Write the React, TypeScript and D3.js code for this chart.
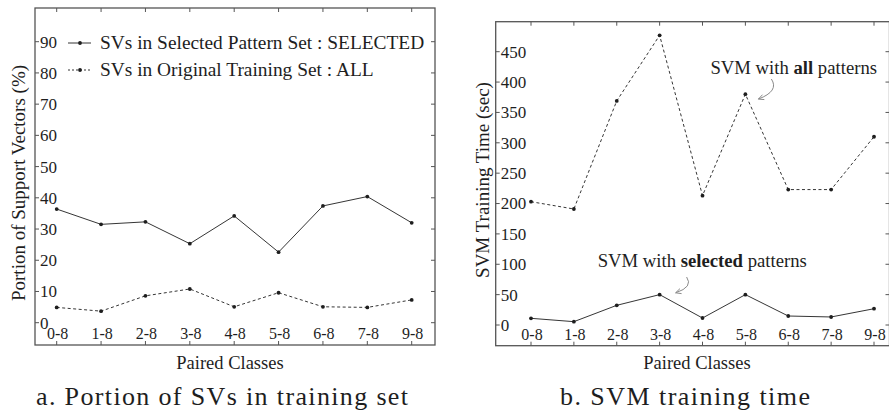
import React from "react";
import * as d3 from "d3";

// Paired digit classes on the x axis
const classes = ["0-8", "1-8", "2-8", "3-8", "4-8", "5-8", "6-8", "7-8", "9-8"];

// Panel a: portion of support vectors (%)
const svSelected = [36.4, 31.5, 32.3, 25.3, 34.2, 22.6, 37.4, 40.4, 32.0];
const svAll = [4.9, 3.7, 8.6, 10.8, 5.1, 9.6, 5.1, 4.9, 7.3];
const svTicks = [0, 10, 20, 30, 40, 50, 60, 70, 80, 90];

// Panel b: SVM training time (sec)
const timeAll = [203, 191, 369, 477, 213, 380, 223, 223, 310];
const timeSelected = [11, 5.5, 32.4, 50, 11.5, 50, 14.8, 13.2, 26.8];
const timeTicks = [0, 50, 100, 150, 200, 250, 300, 350, 400, 450];

const SERIF = "Liberation Serif";
const INK = "#1e1e1e";
const FRAME = "#555";

type Series = { values: number[]; dashed: boolean };

type PanelProps = {
  left: number;
  right: number;
  top: number;
  bottom: number;
  xRange: [number, number];
  yDomain: [number, number];
  yRange: [number, number];
  ticks: number[];
  series: Series[];
  yLabel: string;
  yLabelX: number;
  yLabelY: number;
  xLabelX: number;
  caption: string;
  captionX: number;
  captionWidth: number;
  children?: (x: d3.ScalePoint<string>, y: d3.ScaleLinear<number, number>) => React.ReactNode;
};

function Panel(p: PanelProps) {
  const x = d3.scalePoint<string>().domain(classes).range(p.xRange);
  const y = d3.scaleLinear().domain(p.yDomain).range(p.yRange);
  const line = d3
    .line<number>()
    .x((_, i) => x(classes[i]) as number)
    .y((v) => y(v));
  const tickLen = 4;
  return (
    <g>
      <rect
        x={p.left}
        y={p.top}
        width={p.right - p.left}
        height={p.bottom - p.top}
        fill="none"
        stroke={FRAME}
        strokeWidth={1.3}
      />
      {/* x ticks on top and bottom edges */}
      {classes.map((c) => (
        <g key={c}>
          <line x1={x(c)} x2={x(c)} y1={p.top} y2={p.top + tickLen} stroke={FRAME} />
          <line x1={x(c)} x2={x(c)} y1={p.bottom} y2={p.bottom - tickLen} stroke={FRAME} />
          <text
            x={(x(c) as number) + 1}
            y={p.bottom - 6}
            textAnchor="middle"
            fontFamily={SERIF}
            fontSize={16}
            fill={INK}
          >
            {c}
          </text>
        </g>
      ))}
      {/* y ticks on left and right edges, labels inside the frame */}
      {p.ticks.map((t) => (
        <g key={t}>
          <line x1={p.left} x2={p.left + tickLen} y1={y(t)} y2={y(t)} stroke={FRAME} />
          <line x1={p.right} x2={p.right - tickLen} y1={y(t)} y2={y(t)} stroke={FRAME} />
          <text x={p.left + 5} y={y(t)} dy="0.35em" fontFamily={SERIF} fontSize={17} fill={INK}>
            {t}
          </text>
        </g>
      ))}
      {p.series.map((s, si) => (
        <g key={si}>
          <path
            d={line(s.values) as string}
            fill="none"
            stroke={INK}
            strokeWidth={0.9}
            strokeDasharray={s.dashed ? "3 2.5" : undefined}
          />
          {s.values.map((v, i) => (
            <circle key={i} cx={x(classes[i])} cy={y(v)} r={1.9} fill={INK} />
          ))}
        </g>
      ))}
      {p.children && p.children(x, y)}
      <text
        transform={`translate(${p.yLabelX},${p.yLabelY}) rotate(-90)`}
        textAnchor="middle"
        fontFamily={SERIF}
        fontSize={19}
        fill={INK}
      >
        {p.yLabel}
      </text>
      <text x={p.xLabelX} y={369} textAnchor="middle" fontFamily={SERIF} fontSize={18.5} fill={INK}>
        Paired Classes
      </text>
      <text
        x={p.captionX}
        y={405}
        textAnchor="middle"
        textLength={p.captionWidth}
        lengthAdjust="spacing"
        fontFamily={SERIF}
        fontSize={26}
        fill={INK}
      >
        {p.caption}
      </text>
    </g>
  );
}

function CurvedArrow({ x0, y0, x1, y1, bend }: { x0: number; y0: number; x1: number; y1: number; bend: number }) {
  const cx = x0 + bend;
  const cy = (y0 + y1) / 2 + 2;
  const path = d3.path();
  path.moveTo(x0, y0);
  path.quadraticCurveTo(cx, cy, x1, y1);
  const ang = Math.atan2(y1 - cy, x1 - cx);
  const head = 6;
  const a1 = ang + Math.PI - 0.45;
  const a2 = ang + Math.PI + 0.45;
  const hp = d3.path();
  hp.moveTo(x1 + head * Math.cos(a1), y1 + head * Math.sin(a1));
  hp.lineTo(x1, y1);
  hp.lineTo(x1 + head * Math.cos(a2), y1 + head * Math.sin(a2));
  return (
    <g fill="none" stroke="#8a8a8a" strokeWidth={1}>
      <path d={path.toString()} />
      <path d={hp.toString()} />
    </g>
  );
}

export default function App() {
  return (
    <svg
      width={889}
      height={411}
      fontFamily={SERIF}
      style={{ position: "absolute", left: 0, top: 0, display: "block" }}
    >
      <rect x={0} y={0} width={889} height={411} fill="#fff" />
      <Panel
        left={35}
        right={435}
        top={8}
        bottom={345}
        xRange={[56.7, 411.7]}
        yDomain={[0, 90]}
        yRange={[322.7, 41.7]}
        ticks={svTicks}
        series={[
          { values: svSelected, dashed: false },
          { values: svAll, dashed: true },
        ]}
        yLabel="Portion of Support Vectors (%)"
        yLabelX={25}
        yLabelY={183}
        xLabelX={230}
        caption="a. Portion of SVs in training set"
        captionX={222}
        captionWidth={372}
      >
        {() => (
          <g fill={INK}>
            {[
              { label: "SVs in Selected Pattern Set : SELECTED", dashed: false, cy: 43 },
              { label: "SVs in Original Training Set : ALL", dashed: true, cy: 70 },
            ].map((r) => (
              <g key={r.label}>
                <line
                  x1={68}
                  x2={91}
                  y1={r.cy}
                  y2={r.cy}
                  stroke={INK}
                  strokeWidth={0.9}
                  strokeDasharray={r.dashed ? "2 2" : undefined}
                />
                <circle cx={80} cy={r.cy} r={1.9} fill={INK} />
                <text x={100} y={r.cy + 6} fontFamily={SERIF} fontSize={19.4}>
                  {r.label}
                </text>
              </g>
            ))}
          </g>
        )}
      </Panel>
      <Panel
        left={495.7}
        right={889.5}
        top={21.7}
        bottom={345.7}
        xRange={[531, 874]}
        yDomain={[0, 450]}
        yRange={[325, 51.7]}
        ticks={timeTicks}
        series={[
          { values: timeAll, dashed: true },
          { values: timeSelected, dashed: false },
        ]}
        yLabel="SVM Training Time (sec)"
        yLabelX={489}
        yLabelY={180}
        xLabelX={697}
        caption="b. SVM training time"
        captionX={685}
        captionWidth={250}
      >
        {(x, y) => {
          const xa = x("5-8") as number;
          const xs = x("3-8") as number;
          return (
            <g fill={INK} fontFamily={SERIF} fontSize={18.7}>
              <text x={xa - 35} y={y(413)}>
                SVM with <tspan fontWeight="bold">all</tspan> patterns
              </text>
              <CurvedArrow x0={xa + 26} y0={y(405)} x1={xa + 13} y1={y(372)} bend={8} />
              <text x={xs - 62} y={y(95)}>
                SVM with <tspan fontWeight="bold">selected</tspan> patterns
              </text>
              <CurvedArrow x0={xs + 27} y0={y(79)} x1={xs + 16} y1={y(53)} bend={7} />
            </g>
          );
        }}
      </Panel>
    </svg>
  );
}
